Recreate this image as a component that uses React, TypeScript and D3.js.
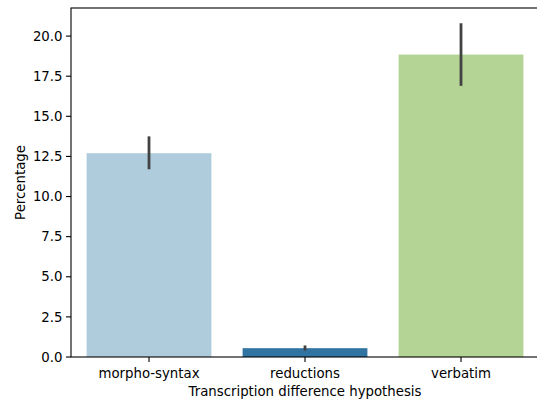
import * as d3 from "d3";

const categories = ["morpho-syntax", "reductions", "verbatim"];
const means = [12.7, 0.55, 18.85];
const ciLow = [11.7, 0.4, 16.9];
const ciHigh = [13.75, 0.72, 20.8];
const colors = ["#aeccdb", "#3274a1", "#b3d495"];
const yTicks = [0, 2.5, 5, 7.5, 10, 12.5, 15, 17.5, 20];

const W = 537;
const H = 402;
const margin = { left: 71, top: 8, right: 539, bottom: 357 };

export default function App() {
  const x = d3
    .scaleBand()
    .domain(categories)
    .range([margin.left, margin.right])
    .paddingInner(0.2)
    .paddingOuter(0.1);
  const y = d3.scaleLinear().domain([0, 21.75]).range([margin.bottom, margin.top]);
  const font = "DejaVu Sans, sans-serif";
  const fs = 13.3;

  return (
    <svg
      width={W}
      height={H}
      style={{ position: "absolute", left: 0, top: 0, background: "#fff" }}
      fontFamily={font}
    >
      {categories.map((c, i) => (
        <rect
          key={c}
          x={x(c)}
          y={y(means[i])}
          width={x.bandwidth()}
          height={y(0) - y(means[i])}
          fill={colors[i]}
        />
      ))}
      {categories.map((c, i) => (
        <line
          key={"e" + c}
          x1={x(c)! + x.bandwidth() / 2}
          x2={x(c)! + x.bandwidth() / 2}
          y1={y(ciLow[i])}
          y2={y(ciHigh[i])}
          stroke="#424242"
          strokeWidth={2.8}
        />
      ))}
      {/* spines */}
      <rect
        x={margin.left}
        y={margin.top}
        width={margin.right - margin.left}
        height={margin.bottom - margin.top}
        fill="none"
        stroke="#000"
        strokeWidth={1.1}
      />
      {yTicks.map((t) => (
        <g key={t} transform={`translate(0,${y(t)})`}>
          <line x1={margin.left - 5} x2={margin.left} stroke="#000" strokeWidth={1.1} />
          <text x={margin.left - 8.5} dy="0.35em" textAnchor="end" fontSize={fs} fill="#000">
            {t.toFixed(1)}
          </text>
        </g>
      ))}
      {categories.map((c) => (
        <g key={"t" + c} transform={`translate(${x(c)! + x.bandwidth() / 2},${margin.bottom})`}>
          <line y1={0} y2={5} stroke="#000" strokeWidth={1.1} />
          <text y={21} textAnchor="middle" fontSize={fs} fill="#000">
            {c}
          </text>
        </g>
      ))}
      <text
        x={(margin.left + margin.right) / 2}
        y={396}
        textAnchor="middle"
        fontSize={fs}
        fill="#000"
      >
        Transcription difference hypothesis
      </text>
      <text
        transform={`translate(25,${(margin.top + margin.bottom) / 2}) rotate(-90)`}
        textAnchor="middle"
        fontSize={fs}
        fill="#000"
      >
        Percentage
      </text>
    </svg>
  );
}
